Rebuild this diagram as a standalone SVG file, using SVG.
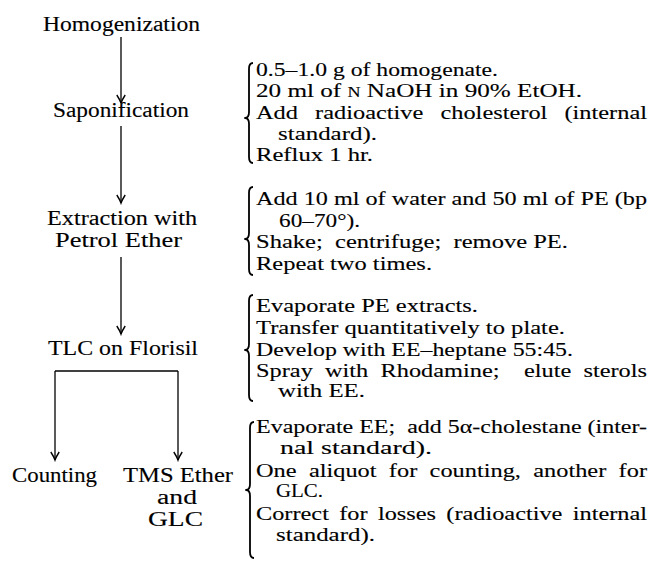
<svg xmlns="http://www.w3.org/2000/svg" width="653" height="562" viewBox="0 0 653 562">
<defs>
<style>
.l{font-size:20px}
.r{font-size:19.5px}
.pre{white-space:pre}
.ln{stroke:#000;stroke-width:1.3;fill:none}
.br{stroke:#000;stroke-width:1.8;fill:none;stroke-linejoin:round}
</style>
<marker id="ah" markerUnits="userSpaceOnUse" markerWidth="12" markerHeight="12" viewBox="-10 -6 12 12" refX="0" refY="0" orient="auto">
<path d="M-8,-4.2 Q-3,-1 0,0 Q-3,1 -8,4.2" stroke="#000" stroke-width="1.4" fill="none"/>
</marker>
</defs>
<rect width="653" height="562" fill="#fff"/>
<g id="connectors">
<path class="ln" d="M121,37 V103" marker-end="url(#ah)"/>
<path class="ln" d="M121,126 V203" marker-end="url(#ah)"/>
<path class="ln" d="M121,257 V334" marker-end="url(#ah)"/>
<path class="ln" d="M55,371 V460" marker-end="url(#ah)"/>
<path class="ln" d="M55,371 H178"/>
<path class="ln" d="M178,371 V460" marker-end="url(#ah)"/>
</g>
<g font-family="Liberation Serif, Times New Roman, serif" fill="#000" stroke="#000" stroke-width="0.12">
<g id="homogenization"><text class="l" x="43" y="31" textLength="157" lengthAdjust="spacingAndGlyphs">Homogenization</text></g>
<g id="saponification"><text class="l" x="53" y="117" textLength="136" lengthAdjust="spacingAndGlyphs">Saponification</text></g>
<g id="extraction">
<text class="l" x="47" y="225" textLength="150" lengthAdjust="spacingAndGlyphs">Extraction with</text>
<text class="l" x="55" y="247" textLength="127" lengthAdjust="spacingAndGlyphs">Petrol Ether</text>
</g>
<g id="tlc"><text class="l" x="48" y="355" textLength="150" lengthAdjust="spacingAndGlyphs">TLC on Florisil</text></g>
<g id="counting"><text class="l" x="12" y="482" textLength="85" lengthAdjust="spacingAndGlyphs">Counting</text></g>
<g id="tms-glc">
<text class="l" x="123" y="482" textLength="110" lengthAdjust="spacingAndGlyphs">TMS Ether</text>
<text class="l" x="157" y="504" textLength="40" lengthAdjust="spacingAndGlyphs">and</text>
<text class="l" x="148" y="526" textLength="55" lengthAdjust="spacingAndGlyphs">GLC</text>
</g>
<g id="note-saponification">
<path class="br" d="M253,63 C250,63 249,65 249,69 L249,112 C249,116 247,118 245,118 C247,118 249,120 249,124 L249,157 C249,161 250,163 253,163"/>
<text class="r" x="256" y="76" textLength="242" lengthAdjust="spacingAndGlyphs">0.5–1.0 g of homogenate.</text>
<text class="r" x="256" y="97" textLength="326" lengthAdjust="spacingAndGlyphs">20 ml of <tspan font-size="14">N</tspan> NaOH in 90% EtOH.</text>
<text class="r" x="256" y="118.5" textLength="391" lengthAdjust="spacingAndGlyphs" word-spacing="8.8">Add radioactive cholesterol (internal</text>
<text class="r" x="278" y="139.5" textLength="99" lengthAdjust="spacingAndGlyphs">standard).</text>
<text class="r" x="256" y="161" textLength="117" lengthAdjust="spacingAndGlyphs">Reflux 1 hr.</text>
</g>
<g id="note-extraction">
<path class="br" d="M253,187 C250,187 249,189 249,193 L249,233 C249,237 247,239 245,239 C247,239 249,241 249,245 L249,269 C249,273 250,275 253,275"/>
<text class="r" x="256" y="205" textLength="391" lengthAdjust="spacingAndGlyphs">Add 10 ml of water and 50 ml of PE (bp</text>
<text class="r" x="279" y="226.5" textLength="81" lengthAdjust="spacingAndGlyphs">60–70°).</text>
<text class="r pre" x="256" y="248" textLength="312" lengthAdjust="spacingAndGlyphs">Shake;  centrifuge;  remove PE.</text>
<text class="r" x="256" y="269.5" textLength="176" lengthAdjust="spacingAndGlyphs">Repeat two times.</text>
</g>
<g id="note-tlc">
<path class="br" d="M253,295 C250,295 249,297 249,301 L249,344 C249,348 247,350 245,350 C247,350 249,352 249,356 L249,395 C249,399 250,401 253,401"/>
<text class="r" x="256" y="312" textLength="222" lengthAdjust="spacingAndGlyphs">Evaporate PE extracts.</text>
<text class="r" x="256" y="333.5" textLength="309" lengthAdjust="spacingAndGlyphs">Transfer quantitatively to plate.</text>
<text class="r" x="256" y="355.5" textLength="317" lengthAdjust="spacingAndGlyphs">Develop with EE–heptane 55:45.</text>
<text class="r pre" x="256" y="377" textLength="391" lengthAdjust="spacingAndGlyphs" word-spacing="4.9">Spray with Rhodamine;  elute sterols</text>
<text class="r" x="278" y="397" textLength="87" lengthAdjust="spacingAndGlyphs">with EE.</text>
</g>
<g id="note-glc">
<path class="br" d="M254,422 C251,422 250,424 250,428 L250,484 C250,488 248,490 246,490 C248,490 250,492 250,496 L250,552 C250,556 251,558 254,558"/>
<text class="r pre" x="256" y="433" textLength="391" lengthAdjust="spacingAndGlyphs">Evaporate EE;  add 5α-cholestane (inter-</text>
<text class="r" x="280" y="454" textLength="152" lengthAdjust="spacingAndGlyphs">nal standard).</text>
<text class="r" x="256" y="476.5" textLength="391" lengthAdjust="spacingAndGlyphs" word-spacing="5">One aliquot for counting, another for</text>
<text class="r" x="276" y="497" textLength="47" lengthAdjust="spacingAndGlyphs">GLC.</text>
<text class="r" x="256" y="519.5" textLength="391" lengthAdjust="spacingAndGlyphs" word-spacing="3.4">Correct for losses (radioactive internal</text>
<text class="r" x="276" y="540.5" textLength="99" lengthAdjust="spacingAndGlyphs">standard).</text>
</g>
</g>
</svg>
